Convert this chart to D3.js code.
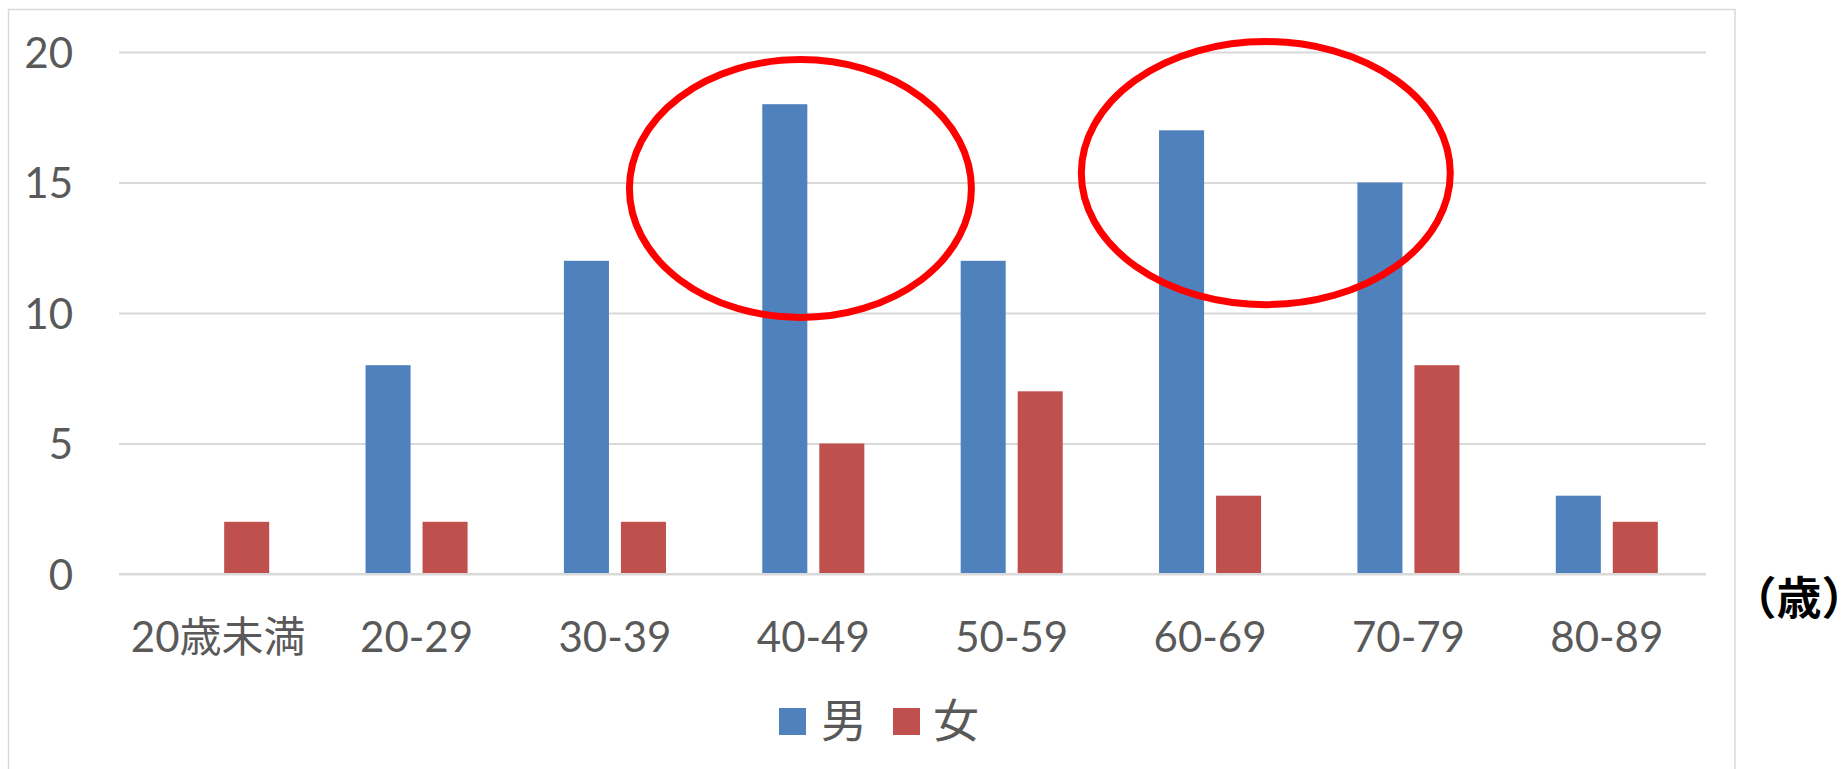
<!DOCTYPE html>
<html lang="ja">
<head>
<meta charset="utf-8">
<script src="https://cdn.jsdelivr.net/npm/d3@7"></script>
<style>
  html, body { margin: 0; padding: 0; background: #fff; }
  svg { display: block; }
  .unit { font-feature-settings: "halt"; }
</style>
</head>
<body>
<svg id="chart" width="1847" height="769"></svg>
<script>
// Age groups and counts per group
const categories = ["20歳未満", "20-29", "30-39", "40-49", "50-59", "60-69", "70-79", "80-89"];
const seriesNames = ["男", "女"];
const maleValues = [0, 8, 12, 18, 12, 17, 15, 3];
const femaleValues = [2, 2, 2, 5, 7, 3, 8, 2];
const yTicks = [0, 5, 10, 15, 20];
const unitLabel = "（歳）";
// Highlight rings: centre given as category index (fractional) and value, radii in the same units
const highlights = [
  { at: 2.935, value: 14.77, rx: 0.862, ry: 4.94 },
  { at: 5.281, value: 15.36, rx: 0.930, ry: 5.04 }
];

const colors = { "男": "#4F81BD", "女": "#C0504D" };
const textColor = "#595959";
const gridColor = "#D9D9D9";
const font = "Lato, 'Noto Sans CJK JP', sans-serif";

const svg = d3.select("#chart");
const plot = { left: 119, right: 1706, top: 52, bottom: 574 };

// Outer chart frame
svg.append("path")
  .attr("d", `M8.5,${769} V9.5 H1735 V${769}`)
  .attr("fill", "none")
  .attr("stroke", gridColor)
  .attr("stroke-width", 1.5);

const x0 = d3.scaleBand().domain(categories).range([plot.left, plot.right]).padding(0);
const x1 = d3.scaleBand().domain(seriesNames).range([0, x0.bandwidth()])
  .paddingInner(0.21).paddingOuter(0.845);
const y = d3.scaleLinear().domain([0, 20]).range([plot.bottom, plot.top]);
const xi = d3.scaleLinear().domain([-0.5, categories.length - 0.5]).range([plot.left, plot.right]);

// Horizontal gridlines with the value labels on the left
const yAxis = d3.axisLeft(y).tickValues(yTicks).tickSize(-(plot.right - plot.left)).tickPadding(46);
const gy = svg.append("g").attr("transform", `translate(${plot.left},0)`).call(yAxis);
gy.select(".domain").remove();
gy.selectAll(".tick line").attr("stroke", gridColor).attr("stroke-width", 2);
gy.selectAll(".tick text")
  .attr("fill", textColor)
  .attr("font-family", font)
  .attr("font-size", 42)
  .attr("dy", "0.36em");

// Bars
const rows = categories.map((c, i) => ({ cat: c, values: [
  { name: "男", v: maleValues[i] }, { name: "女", v: femaleValues[i] }
]}));

const groups = svg.append("g").selectAll("g").data(rows).join("g")
  .attr("transform", d => `translate(${x0(d.cat)},0)`);
groups.selectAll("rect").data(d => d.values.filter(v => v.v > 0)).join("rect")
  .attr("x", d => x1(d.name))
  .attr("width", x1.bandwidth())
  .attr("y", d => y(d.v))
  .attr("height", d => y(0) - y(d.v))
  .attr("fill", d => colors[d.name]);

// Baseline drawn on top of the bars
svg.append("line")
  .attr("x1", plot.left).attr("x2", plot.right)
  .attr("y1", y(0)).attr("y2", y(0))
  .attr("stroke", gridColor).attr("stroke-width", 2);

// Category labels
const xAxis = d3.axisBottom(x0).tickSize(0).tickPadding(0);
const gx = svg.append("g").attr("transform", `translate(0,${plot.bottom})`).call(xAxis);
gx.select(".domain").remove();
gx.selectAll(".tick text")
  .attr("fill", textColor)
  .attr("font-family", font)
  .attr("font-size", 42)
  .attr("y", 78)
  .attr("dy", 0);

// Unit label to the right of the axis (half-width bracket spacing keeps it inside)
svg.append("text")
  .attr("class", "unit")
  .attr("x", 1799).attr("y", 615)
  .attr("text-anchor", "middle")
  .attr("font-family", "'Noto Sans CJK JP', sans-serif")
  .attr("font-weight", 700)
  .attr("font-size", 45)
  .attr("fill", "#000")
  .text(unitLabel);

// Legend
const legendItems = [
  { name: "男", sx: 779, tx: 821 },
  { name: "女", sx: 893, tx: 933 }
];
const lg = svg.append("g");
lg.selectAll("rect").data(legendItems).join("rect")
  .attr("x", d => d.sx).attr("y", 708).attr("width", 27).attr("height", 27)
  .attr("fill", d => colors[d.name]);
lg.selectAll("text").data(legendItems).join("text")
  .attr("x", d => d.tx).attr("y", 737)
  .attr("font-family", "'Noto Sans CJK JP', sans-serif")
  .attr("font-size", 46)
  .attr("fill", textColor)
  .text(d => d.name);

// Highlight rings
svg.append("g").selectAll("ellipse").data(highlights).join("ellipse")
  .attr("cx", d => xi(d.at))
  .attr("cy", d => y(d.value))
  .attr("rx", d => xi(d.rx) - xi(0))
  .attr("ry", d => y(0) - y(d.ry))
  .attr("fill", "none")
  .attr("stroke", "#FF0000")
  .attr("stroke-width", 7);
</script>
</body>
</html>
